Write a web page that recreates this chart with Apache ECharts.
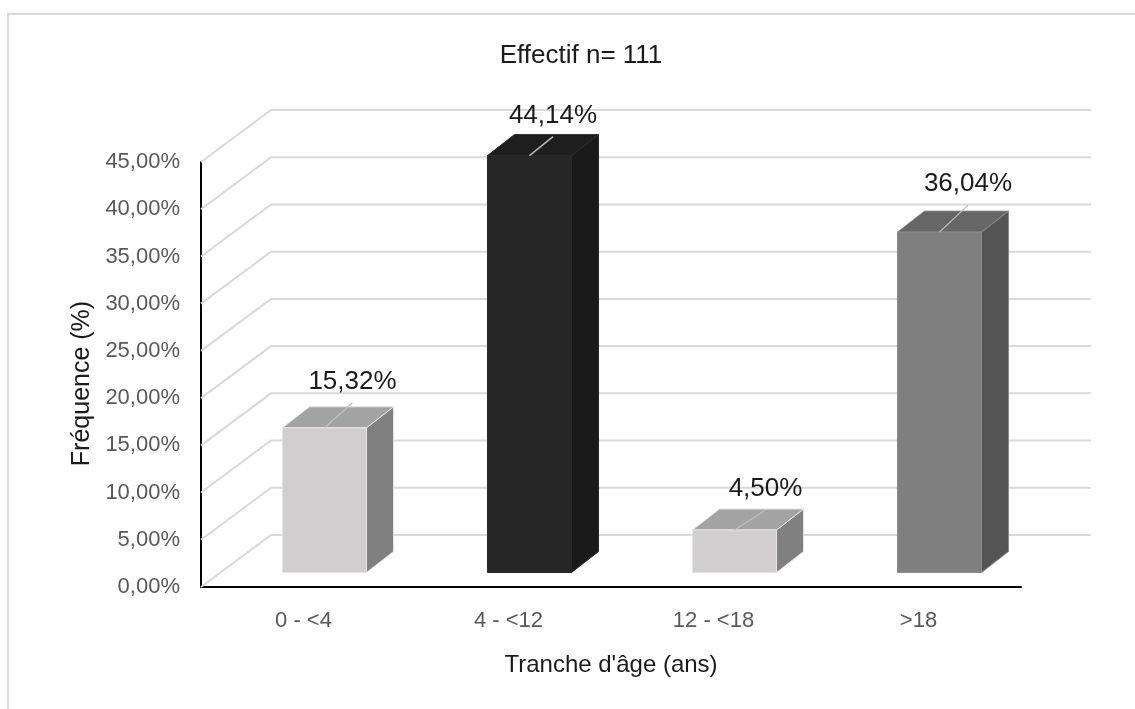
<!DOCTYPE html>
<html>
<head>
<meta charset="utf-8">
<script src="https://cdn.jsdelivr.net/npm/echarts@6/dist/echarts.min.js"></script>
<style>
  html, body { margin: 0; padding: 0; background: #ffffff; }
  #chart { width: 1135px; height: 709px; }
</style>
</head>
<body>
<div id="chart"></div>
<script>
// Age groups and their share of the cohort (%)
const categories = ['0 - <4', '4 - <12', '12 - <18', '>18'];
const frequencies = [15.32, 44.14, 4.50, 36.04];

// Value axis range (%)
const yMin = 0;
const yMax = 45;
const yStep = 5;

// Bar face colours: [front, side, top, edge]
const barColors = [
  ['#d0cecf', '#808080', '#a3a3a3', '#e4e4e4'],
  ['#262626', '#1a1a1a', '#1e1e1e', '#2a2a2a'],
  ['#d0cecf', '#808080', '#a3a3a3', '#e4e4e4'],
  ['#7f7f7f', '#545454', '#666666', '#8a8a8a']
];

// Oblique projection of the 3D box
const BACK = [70, -52];        // offset of the back wall
const FRONT = [21, -14.5];     // offset of the bar front faces
const BAR_DEPTH = [27, -21];   // depth of each bar
const BAR_RATIO = 0.41;        // bar width / category width
// Hand-placed label positions, relative to the top centre of each bar front
const labelNudge = [[28, -46], [23.5, -40], [31, -41], [28.5, -48]];

const FONT = "'Liberation Sans', Arial, sans-serif";
const fmtPct = v => v.toFixed(2).replace('.', ',') + '%';

const gridValues = [];
for (let v = yMin; v <= yMax + 1e-9; v += yStep) gridValues.push([0, v]);

const chart = echarts.init(document.getElementById('chart'), null, { renderer: 'canvas' });

chart.setOption({
  backgroundColor: '#ffffff',
  animation: false,
  title: {
    text: 'Effectif n= 111',
    left: 576,
    top: 38,
    textAlign: 'center',
    textStyle: { fontFamily: FONT, fontSize: 26, fontWeight: 'normal', color: '#1a1a1a' }
  },
  graphic: [{
    type: 'rect',
    shape: { x: 8, y: 14, width: 1300, height: 900 },
    style: { fill: 'none', stroke: '#d9d9d9', lineWidth: 2 },
    silent: true,
    z: -10
  }],
  grid: { left: 201, right: 114, top: 162, bottom: 122, containLabel: false },
  xAxis: {
    type: 'category',
    data: categories,
    axisLine: { show: true, lineStyle: { color: '#000000', width: 2 } },
    axisTick: { show: false },
    axisLabel: { fontFamily: FONT, fontSize: 22, color: '#595959', margin: 23 },
    splitLine: { show: false },
    name: "Tranche d'âge (ans)",
    nameLocation: 'middle',
    nameGap: 66,
    nameTextStyle: { fontFamily: FONT, fontSize: 24, color: '#1a1a1a' }
  },
  yAxis: {
    type: 'value',
    min: yMin,
    max: yMax,
    interval: yStep,
    axisLine: { show: true, lineStyle: { color: '#000000', width: 2 } },
    axisTick: { show: false },
    axisLabel: { fontFamily: FONT, fontSize: 22, color: '#595959', margin: 21, formatter: fmtPct },
    splitLine: { show: false },
    name: 'Fréquence (%)',
    nameLocation: 'middle',
    nameRotate: 90,
    nameGap: 106,
    nameTextStyle: { fontFamily: FONT, fontSize: 25, color: '#1a1a1a', padding: [0, 18, 0, 0] }
  },
  series: [
    {
      // 3D gridlines: floor diagonal plus back wall line for each tick
      type: 'custom',
      silent: true,
      z: 1,
      data: gridValues,
      encode: { x: 0, y: 1 },
      renderItem(params, api) {
        const cs = params.coordSys;
        const y = api.coord([0, api.value(1)])[1];
        return {
          type: 'polyline',
          shape: {
            points: [
              [cs.x, y],
              [cs.x + BACK[0], y + BACK[1]],
              [cs.x + cs.width + BACK[0], y + BACK[1]]
            ]
          },
          style: { stroke: '#d9d9d9', lineWidth: 2, fill: null }
        };
      }
    },
    {
      // 3D bars with leader lines and value labels
      type: 'custom',
      z: 3,
      data: frequencies.map((v, i) => [i, v]),
      encode: { x: 0, y: 1 },
      renderItem(params, api) {
        const i = api.value(0);
        const v = api.value(1);
        const base = api.coord([i, 0]);
        const top = api.coord([i, v]);
        const w = api.size([1, 0])[0] * BAR_RATIO;
        const x0 = base[0] - w / 2 + FRONT[0];
        const x1 = x0 + w;
        const yb = base[1] + FRONT[1];
        const yt = top[1] + FRONT[1];
        const dx = BAR_DEPTH[0], dy = BAR_DEPTH[1];
        const c = barColors[i];
        const edge = { stroke: c[3], lineWidth: 1 };
        const fc = (x0 + x1) / 2;
        const lx = fc + labelNudge[i][0];
        const ly = yt + labelNudge[i][1];
        return {
          type: 'group',
          children: [
            {
              type: 'polygon',
              shape: { points: [[x1, yb], [x1 + dx, yb + dy], [x1 + dx, yt + dy], [x1, yt]] },
              style: Object.assign({ fill: c[1] }, edge)
            },
            {
              type: 'polygon',
              shape: { points: [[x0, yt], [x1, yt], [x1 + dx, yt + dy], [x0 + dx, yt + dy]] },
              style: Object.assign({ fill: c[2] }, edge)
            },
            {
              type: 'polygon',
              shape: { points: [[x0, yb], [x1, yb], [x1, yt], [x0, yt]] },
              style: Object.assign({ fill: c[0] }, edge)
            },
            {
              type: 'line',
              shape: { x1: fc, y1: yt, x2: lx, y2: ly + 21 },
              style: { stroke: '#bfbfbf', lineWidth: 1.3 }
            },
            {
              type: 'text',
              x: lx,
              y: ly,
              style: {
                text: fmtPct(v),
                fontFamily: FONT,
                fontSize: 26,
                fill: '#1a1a1a',
                align: 'center',
                verticalAlign: 'middle'
              }
            }
          ]
        };
      }
    }
  ]
});
</script>
</body>
</html>
